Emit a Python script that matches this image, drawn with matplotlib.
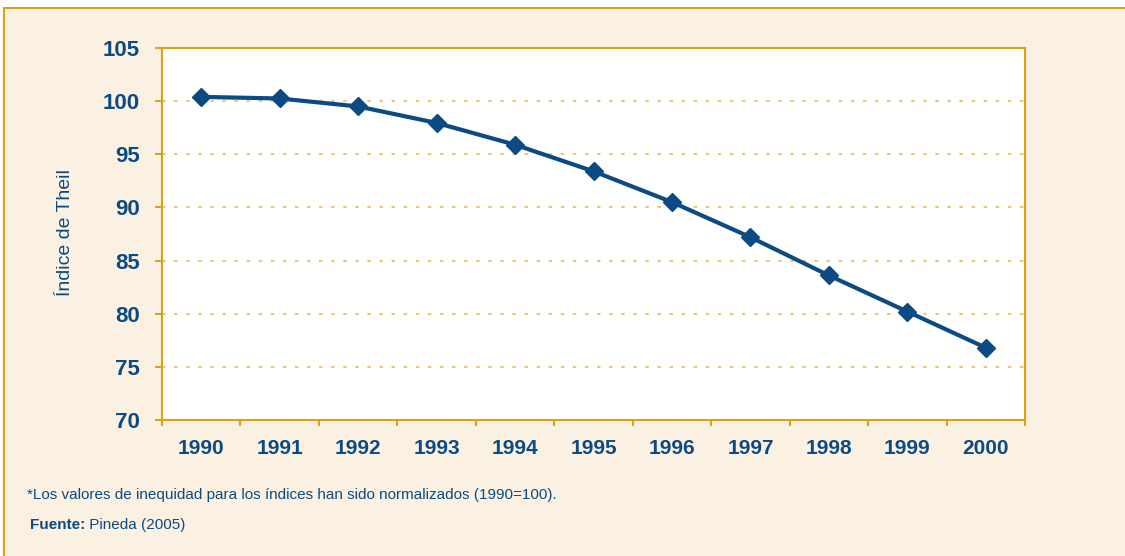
import matplotlib
matplotlib.use("Agg")
import matplotlib.pyplot as plt
from matplotlib.patches import Rectangle
from matplotlib.text import Annotation
import numpy as np

years = ["1990", "1991", "1992", "1993", "1994", "1995", "1996", "1997", "1998", "1999", "2000"]
theil = [100.4, 100.25, 99.5, 97.95, 95.9, 93.4, 90.5, 87.2, 83.6, 80.2, 76.8]
yticks = [70, 75, 80, 85, 90, 95, 100, 105]
ylabel = "Índice de Theil"
note = "*Los valores de inequidad para los índices han sido normalizados (1990=100)."
source_bold = "Fuente:"
source_text = " Pineda (2005)"

BLUE = "#0b4a82"
GOLD = "#dba312"
GRID = "#ecc872"
BG = "#faf1e2"

plt.rcParams['font.family'] = ['Liberation Sans', 'DejaVu Sans']
plt.rcParams['lines.scale_dashes'] = False

fig = plt.figure(figsize=(11.25, 5.56), dpi=100)
fig.patch.set_facecolor("white")
W, H = 1125, 556
fig.patches.append(Rectangle((4 / W, -0.05), 1.2, (556 - 8) / H + 0.05,
                             transform=fig.transFigure, facecolor=BG,
                             edgecolor=GOLD, linewidth=1.5, zorder=-10))

ax = fig.add_axes([162 / W, (556 - 420) / H, (1025 - 162) / W, (420 - 48) / H])
ax.set_facecolor("white")
x = np.arange(len(years))
ax.plot(x, theil, color=BLUE, linewidth=3, marker="D", markersize=9.5,
        markerfacecolor=BLUE, markeredgecolor=BLUE, zorder=5)

ax.set_xlim(-0.5, len(years) - 0.5)
ax.set_ylim(70, 105)
ax.set_yticks(yticks)
ax.set_yticklabels([str(v) for v in yticks])
ax.set_xticks(x)
ax.set_xticklabels(years)
ax.set_xticks(np.arange(len(years) + 1) - 0.5, minor=True)

for v in yticks[1:-1]:
    ax.axhline(v, color=GRID, linewidth=1.5, linestyle=(0, (2.5, 6.2)), zorder=1)

for s in ax.spines.values():
    s.set_color(GOLD)
    s.set_linewidth(1.5)

ax.tick_params(axis="y", which="major", length=5, width=1.5, color=GOLD,
               labelcolor=BLUE, labelsize=16, pad=11)
ax.tick_params(axis="x", which="major", length=0, labelcolor=BLUE, labelsize=15, pad=14)
ax.tick_params(axis="x", which="minor", length=4, width=1.5, color=GOLD)
for lab in ax.get_xticklabels() + ax.get_yticklabels():
    lab.set_fontweight("bold")

fig.text(65 / W, 1 - 233 / H, ylabel, rotation=90, ha="center", va="center",
         color=BLUE, fontsize=14)

fig.text(27 / W, 1 - 499 / H, note, ha="left", va="baseline", color=BLUE, fontsize=11)
yb = 1 - 529 / H
t1 = fig.text(30 / W, yb, source_bold, ha="left", va="baseline", color=BLUE,
              fontsize=11, fontweight="bold")
fig.add_artist(Annotation(source_text, xy=(1, yb), xycoords=(t1, "figure fraction"),
                          va="baseline", ha="left", color=BLUE, fontsize=11))
fig.savefig("out.png", dpi=100, facecolor=fig.get_facecolor())
